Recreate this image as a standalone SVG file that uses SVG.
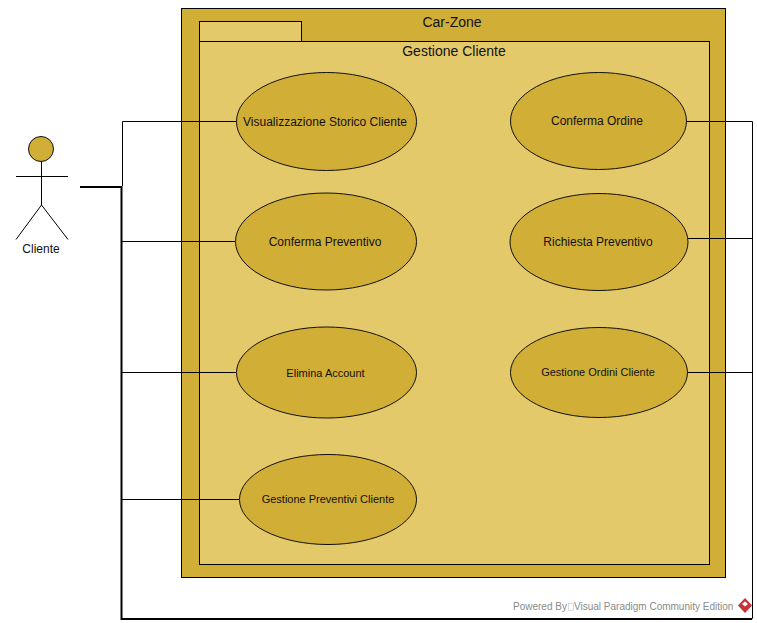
<svg xmlns="http://www.w3.org/2000/svg" width="757" height="623" viewBox="0 0 757 623">
<style>
text{font-family:"Liberation Sans",Arial,sans-serif;fill:#111;text-anchor:middle}
.uc{fill:#d1ae36;stroke:#111;stroke-width:1}
.lbl{font-size:12px}
.sm{font-size:11px}
.c{fill:none;stroke:#000;stroke-width:1}
.pk{fill:#e3c969;stroke:#000;stroke-width:1}
.wm{font-size:10px;text-anchor:start;fill:#8a8a8a}
</style>
<rect width="757" height="623" fill="#fff"/>
<g id="pkg-carzone">
<rect x="181.500" y="8.500" width="544" height="569" fill="#d1ae36" stroke="#000"/>
<text x="452" y="27" font-size="14">Car-Zone</text>
</g>
<g id="pkg-gestione">
<rect class="pk" x="199.500" y="21.500" width="102" height="20"/>
<rect class="pk" x="199.500" y="41.500" width="510" height="523"/>
<text x="454" y="56" font-size="14">Gestione Cliente</text>
</g>
<g id="connectors">
<path class="c" d="M122.500 186V121.500H237"/>
<path class="c" d="M121 241.500H235"/>
<path class="c" d="M121 372.500H236"/>
<path class="c" d="M121 499.500H239"/>
<path class="c" d="M686 121.500H752.500V372.500H687"/>
<path class="c" d="M688 238.500H752"/>
<path class="c" d="M752.500 372V618.500H121"/>
<path d="M80 187H121.500V619H752" fill="none" stroke="#000" stroke-width="2"/>
</g>
<g id="actor-cliente">
<circle cx="41" cy="149" r="12.500" fill="#d1ae36" stroke="#111"/>
<path class="c" d="M41.500 161.500V205M16 176.500H68M41.500 205L16 239.500M41.500 205L68 239.500"/>
<text x="41" y="253" font-size="12">Cliente</text>
</g>
<g id="uc-storico"><ellipse class="uc" cx="326.500" cy="121.500" rx="90" ry="49"/><text class="lbl" x="325" y="125.500">Visualizzazione Storico Cliente</text></g>
<g id="uc-conferma-preventivo"><ellipse class="uc" cx="326" cy="241.500" rx="90.500" ry="48.500"/><text class="lbl" x="325" y="245.500">Conferma Preventivo</text></g>
<g id="uc-elimina"><ellipse class="uc" cx="326.500" cy="372.500" rx="90" ry="45.500"/><text class="sm" x="325.500" y="376.500">Elimina Account</text></g>
<g id="uc-preventivi"><ellipse class="uc" cx="328" cy="499.500" rx="88.500" ry="45"/><text class="sm" x="328" y="503">Gestione Preventivi Cliente</text></g>
<g id="uc-conferma-ordine"><ellipse class="uc" cx="598.500" cy="121" rx="88" ry="48.500"/><text class="lbl" x="597" y="125">Conferma Ordine</text></g>
<g id="uc-richiesta"><ellipse class="uc" cx="599" cy="242" rx="89" ry="48.500"/><text class="lbl" x="598" y="246">Richiesta Preventivo</text></g>
<g id="uc-ordini"><ellipse class="uc" cx="599" cy="372.500" rx="88.500" ry="45"/><text class="sm" x="598" y="376">Gestione Ordini Cliente</text></g>
<g id="watermark">
<text class="wm" x="513" y="610">Powered By</text>
<rect x="568.500" y="603.500" width="5" height="7" fill="none" stroke="#ccc" stroke-width=".7"/>
<text class="wm" x="574" y="610">Visual Paradigm Community Edition</text>
<path d="M745 598L752 605.500L745 613L738 605.500Z" fill="#c8333a"/>
<path d="M742 604L745 601.500L748 604L745 606.500Z" fill="#fff"/>
</g>
</svg>
